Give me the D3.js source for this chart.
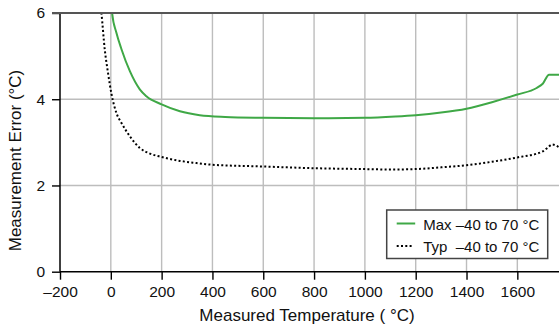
<!DOCTYPE html>
<meta charset=utf-8>
<script src="https://cdn.jsdelivr.net/npm/d3@7"></script>
<style>
body { margin: 0; background: white }
svg { display: block; font-family: "Liberation Sans", Arial, sans-serif }
</style>
<body>
<svg id=chart width=559 height=330></svg>
<script>
// Measurement error vs measured temperature
const xTicks = [-200, 0, 200, 400, 600, 800, 1000, 1200, 1400, 1600];
const yTicks = [0, 2, 4, 6];

const maxTemp = [0, 5, 22, 42, 75, 114, 140, 200, 272, 350, 450, 600, 800, 1000, 1120, 1200, 1300, 1400, 1500, 1600, 1676, 1700, 1725, 1770];
const maxErr  = [6.6, 6.0, 5.54, 5.16, 4.65, 4.23, 4.07, 3.88, 3.72, 3.63, 3.59, 3.57, 3.56, 3.57, 3.60, 3.63, 3.69, 3.78, 3.93, 4.11, 4.26, 4.36, 4.57, 4.57];

const typTemp = [-45, -37, -24, -11, 3, 22, 42, 75, 114, 154, 200, 272, 337, 400, 600, 800, 1000, 1100, 1200, 1300, 1400, 1500, 1600, 1700, 1720, 1737, 1770];
const typErr  = [6.4, 6.0, 5.16, 4.61, 4.11, 3.68, 3.45, 3.14, 2.87, 2.74, 2.66, 2.57, 2.52, 2.48, 2.44, 2.40, 2.38, 2.37, 2.38, 2.42, 2.47, 2.55, 2.65, 2.79, 2.88, 2.95, 2.86];

const legendLabels = [["Max", "–40 to 70 °C"], ["Typ", "–40 to 70 °C"]];

const margin = {top: 13, right: 0, bottom: 58.3, left: 60},
	W = 559, H = 330;
const svg = d3.select("#chart");

const x = d3.scaleLinear().domain([-200, 1764]).range([margin.left, W - margin.right]);
const y = d3.scaleLinear().domain([0, 6]).range([H - margin.bottom, margin.top]);
const fmt = d => d < 0 ? "–" + Math.abs(d) : "" + d;

svg.append("clipPath").attr("id", "clip")
	.append("rect")
	.attr("x", x.range()[0]).attr("y", y(6))
	.attr("width", x.range()[1] - x.range()[0]).attr("height", y(0) - y(6));

// grid
const grid = svg.append("g").attr("stroke", "#bdbdbd").attr("stroke-width", 1.4);
grid.selectAll(".vx").data(xTicks.filter(d => d > -200)).join("line")
	.attr("x1", d => x(d)).attr("x2", d => x(d))
	.attr("y1", y(6)).attr("y2", y(0));
grid.selectAll(".hy").data([2, 4]).join("line")
	.attr("x1", x.range()[0]).attr("x2", x.range()[1])
	.attr("y1", d => y(d)).attr("y2", d => y(d));

// curves
const line = d3.line().x(d => x(d[0])).y(d => y(d[1])).curve(d3.curveMonotoneX);
const plot = svg.append("g").attr("clip-path", "url(#clip)").attr("fill", "none");
plot.append("path")
	.datum(maxTemp.map((t, i) => [t, maxErr[i]]))
	.attr("d", line)
	.attr("stroke", "#3fa846").attr("stroke-width", 2);
plot.append("path")
	.datum(typTemp.map((t, i) => [t, typErr[i]]))
	.attr("d", line)
	.attr("stroke", "#000").attr("stroke-width", 2)
	.attr("stroke-dasharray", "2 2.3");

// axes
svg.append("g")
	.attr("transform", `translate(0,${y(0)})`)
	.call(d3.axisBottom(x).tickValues(xTicks).tickFormat(fmt).tickSize(8).tickPadding(6))
	.call(g => g.select(".domain").remove())
	.call(g => g.selectAll("line").attr("stroke-width", 1.4))
	.call(g => g.selectAll("text").attr("font-size", 15.5).attr("fill", "#111"));
svg.append("line")
	.attr("x1", x.range()[0]).attr("x2", x.range()[1])
	.attr("y1", y(0)).attr("y2", y(0))
	.attr("stroke", "#000").attr("stroke-width", 1.5);

svg.append("g")
	.attr("transform", `translate(${x(-200)},0)`)
	.call(d3.axisLeft(y).tickValues(yTicks).tickFormat(d3.format("d")).tickSize(8).tickPadding(7))
	.call(g => g.select(".domain").remove())
	.call(g => g.selectAll("line").attr("stroke-width", 1.4))
	.call(g => g.selectAll("text").attr("font-size", 15.5).attr("fill", "#111"));
svg.append("line")
	.attr("x1", x(-200)).attr("x2", x(-200))
	.attr("y1", y(6)).attr("y2", y(0))
	.attr("stroke", "#000").attr("stroke-width", 1.5);

// top border
svg.append("line")
	.attr("x1", x.range()[0] - 8).attr("x2", x.range()[1])
	.attr("y1", y(6)).attr("y2", y(6))
	.attr("stroke", "#555").attr("stroke-width", 2);

// titles
svg.append("text")
	.attr("x", 307).attr("y", 321)
	.attr("text-anchor", "middle").attr("font-size", 17).attr("fill", "#111")
	.text("Measured Temperature ( °C)");
svg.append("text")
	.attr("transform", "translate(21,160.5) rotate(-90)")
	.attr("text-anchor", "middle").attr("font-size", 17).attr("fill", "#111")
	.text("Measurement Error (°C)");

// legend
const lg = svg.append("g").attr("transform", "translate(386.7,210)");
lg.append("rect")
	.attr("width", 161).attr("height", 48.5)
	.attr("fill", "white").attr("stroke", "#444").attr("stroke-width", 1.5);
const items = lg.selectAll(".item").data(legendLabels).join("g")
	.attr("transform", (d, i) => `translate(0,${13.5 + i * 22.5})`);
items.append("line")
	.attr("x1", 10).attr("x2", (d, i) => i ? 26 : 28.5)
	.attr("stroke", (d, i) => i ? "#000" : "#3fa846")
	.attr("stroke-width", 2)
	.attr("stroke-dasharray", (d, i) => i ? "2 2.3" : null);
items.append("text").attr("x", 36.5).attr("y", 6).attr("font-size", 15).attr("fill", "#111").text(d => d[0]);
items.append("text").attr("x", 69).attr("y", 6).attr("font-size", 15).attr("fill", "#111").text(d => d[1]);
</script>
</body>
